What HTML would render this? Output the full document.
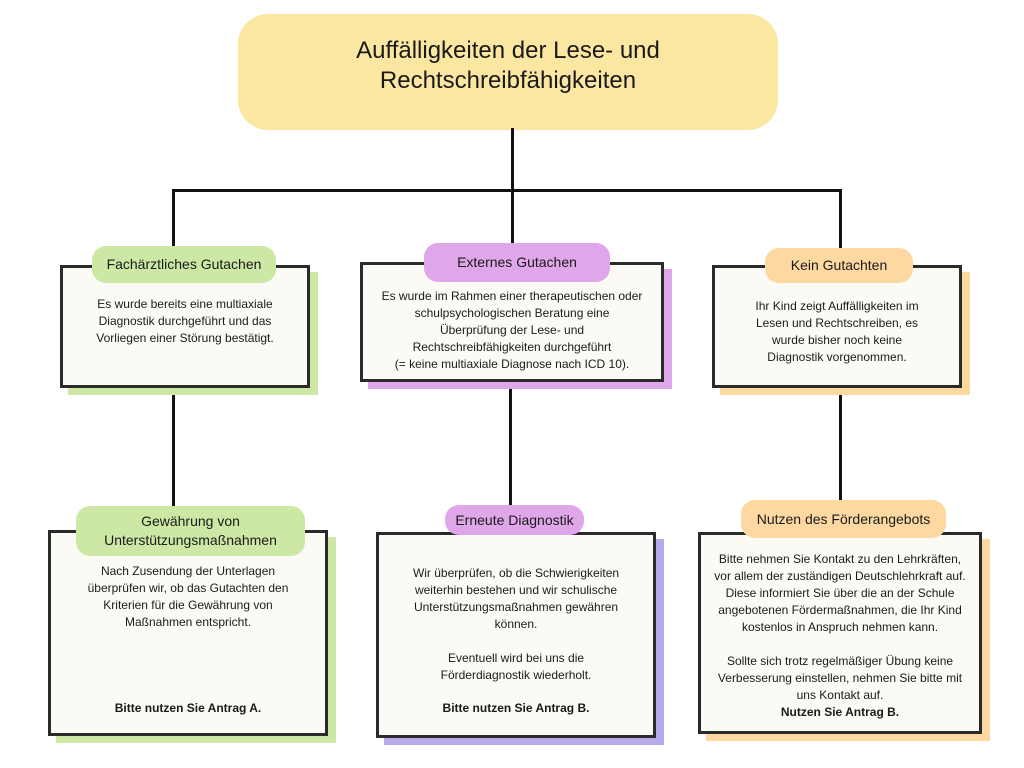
<!DOCTYPE html>
<html><head><meta charset="utf-8"><style>
body{margin:0;width:1024px;height:768px;background:#fff;position:relative;overflow:hidden;font-family:"Liberation Sans","DejaVu Sans",sans-serif;color:#1a1a1a}
.l{position:absolute;background:#111}
.sh{position:absolute}
.box{position:absolute;background:#fbfaf5;border:3px solid #2a2a2a;box-sizing:border-box;font-size:12px;line-height:17px;text-align:center}
.pill{position:absolute;border-radius:14px;font-size:14px;display:flex;align-items:center;justify-content:center;text-align:center;line-height:19px}
.t{position:absolute;left:0;right:0;text-align:center}
</style></head><body>
<div class="pill" style="left:238px;top:14px;width:540px;height:116px;background:#fbe7a1;border-radius:30px;font-size:24px;line-height:30px;padding-bottom:12px;box-sizing:border-box">Auffälligkeiten der Lese- und<br>Rechtschreibfähigkeiten</div>
<div class="l" style="left:511px;top:128px;width:3px;height:63px"></div>
<div class="l" style="left:172px;top:189px;width:670px;height:3px"></div>
<div class="l" style="left:172px;top:189px;width:3px;height:60px"></div>
<div class="l" style="left:511px;top:189px;width:3px;height:56px"></div>
<div class="l" style="left:839px;top:189px;width:3px;height:60px"></div>
<div class="l" style="left:172px;top:388px;width:3px;height:142px"></div>
<div class="l" style="left:509px;top:382px;width:3px;height:150px"></div>
<div class="l" style="left:839px;top:388px;width:3px;height:142px"></div>

<div class="sh" style="left:68px;top:272px;width:250px;height:123px;background:#cde8a4"></div>
<div class="box" style="left:60px;top:265px;width:250px;height:123px"><div class="t" style="top:28px">Es wurde bereits eine multiaxiale<br>Diagnostik durchgeführt und das<br>Vorliegen einer Störung bestätigt.</div></div>
<div class="pill" style="left:92px;top:246px;width:184px;height:37px;background:#cde8a4">Fachärztliches Gutachen</div>

<div class="sh" style="left:368px;top:269px;width:304px;height:120px;background:#e0a6ea"></div>
<div class="box" style="left:360px;top:262px;width:304px;height:120px"><div class="t" style="top:23px">Es wurde im Rahmen einer therapeutischen oder<br>schulpsychologischen Beratung eine<br>Überprüfung der Lese- und<br>Rechtschreibfähigkeiten durchgeführt<br>(= keine multiaxiale Diagnose nach ICD 10).</div></div>
<div class="pill" style="left:424px;top:243px;width:186px;height:39px;background:#e0a6ea">Externes Gutachen</div>

<div class="sh" style="left:720px;top:272px;width:250px;height:123px;background:#fdd8a0"></div>
<div class="box" style="left:712px;top:265px;width:250px;height:123px"><div class="t" style="top:30px">Ihr Kind zeigt Auffälligkeiten im<br>Lesen und Rechtschreiben, es<br>wurde bisher noch keine<br>Diagnostik vorgenommen.</div></div>
<div class="pill" style="left:765px;top:248px;width:148px;height:35px;background:#fdd8a0">Kein Gutachten</div>

<div class="sh" style="left:56px;top:537px;width:280px;height:206px;background:#cde8a4"></div>
<div class="box" style="left:48px;top:530px;width:280px;height:206px"><div class="t" style="top:30px">Nach Zusendung der Unterlagen<br>überprüfen wir, ob das Gutachten den<br>Kriterien für die Gewährung von<br>Maßnahmen entspricht.</div><div class="t" style="top:167px;font-weight:bold">Bitte nutzen Sie Antrag A.</div></div>
<div class="pill" style="left:76px;top:506px;width:229px;height:50px;background:#cde8a4">Gewährung von<br>Unterstützungsmaßnahmen</div>

<div class="sh" style="left:384px;top:539px;width:280px;height:206px;background:#b7a9ea"></div>
<div class="box" style="left:376px;top:532px;width:280px;height:206px"><div class="t" style="top:30px">Wir überprüfen, ob die Schwierigkeiten<br>weiterhin bestehen und wir schulische<br>Unterstützungsmaßnahmen gewähren<br>können.<br><br>Eventuell wird bei uns die<br>Förderdiagnostik wiederholt.</div><div class="t" style="top:165px;font-weight:bold">Bitte nutzen Sie Antrag B.</div></div>
<div class="pill" style="left:445px;top:505px;width:139px;height:30px;background:#e0a6ea">Erneute Diagnostik</div>

<div class="sh" style="left:706px;top:539px;width:284px;height:202px;background:#fdd8a0"></div>
<div class="box" style="left:698px;top:532px;width:284px;height:202px"><div class="t" style="top:16px">Bitte nehmen Sie Kontakt zu den Lehrkräften,<br>vor allem der zuständigen Deutschlehrkraft auf.<br>Diese informiert Sie über die an der Schule<br>angebotenen Fördermaßnahmen, die Ihr Kind<br>kostenlos in Anspruch nehmen kann.<br><br>Sollte sich trotz regelmäßiger Übung keine<br>Verbesserung einstellen, nehmen Sie bitte mit<br>uns Kontakt auf.<br><b>Nutzen Sie Antrag B.</b></div></div>
<div class="pill" style="left:741px;top:500px;width:205px;height:38px;background:#fdd8a0">Nutzen des Förderangebots</div>
</body></html>
